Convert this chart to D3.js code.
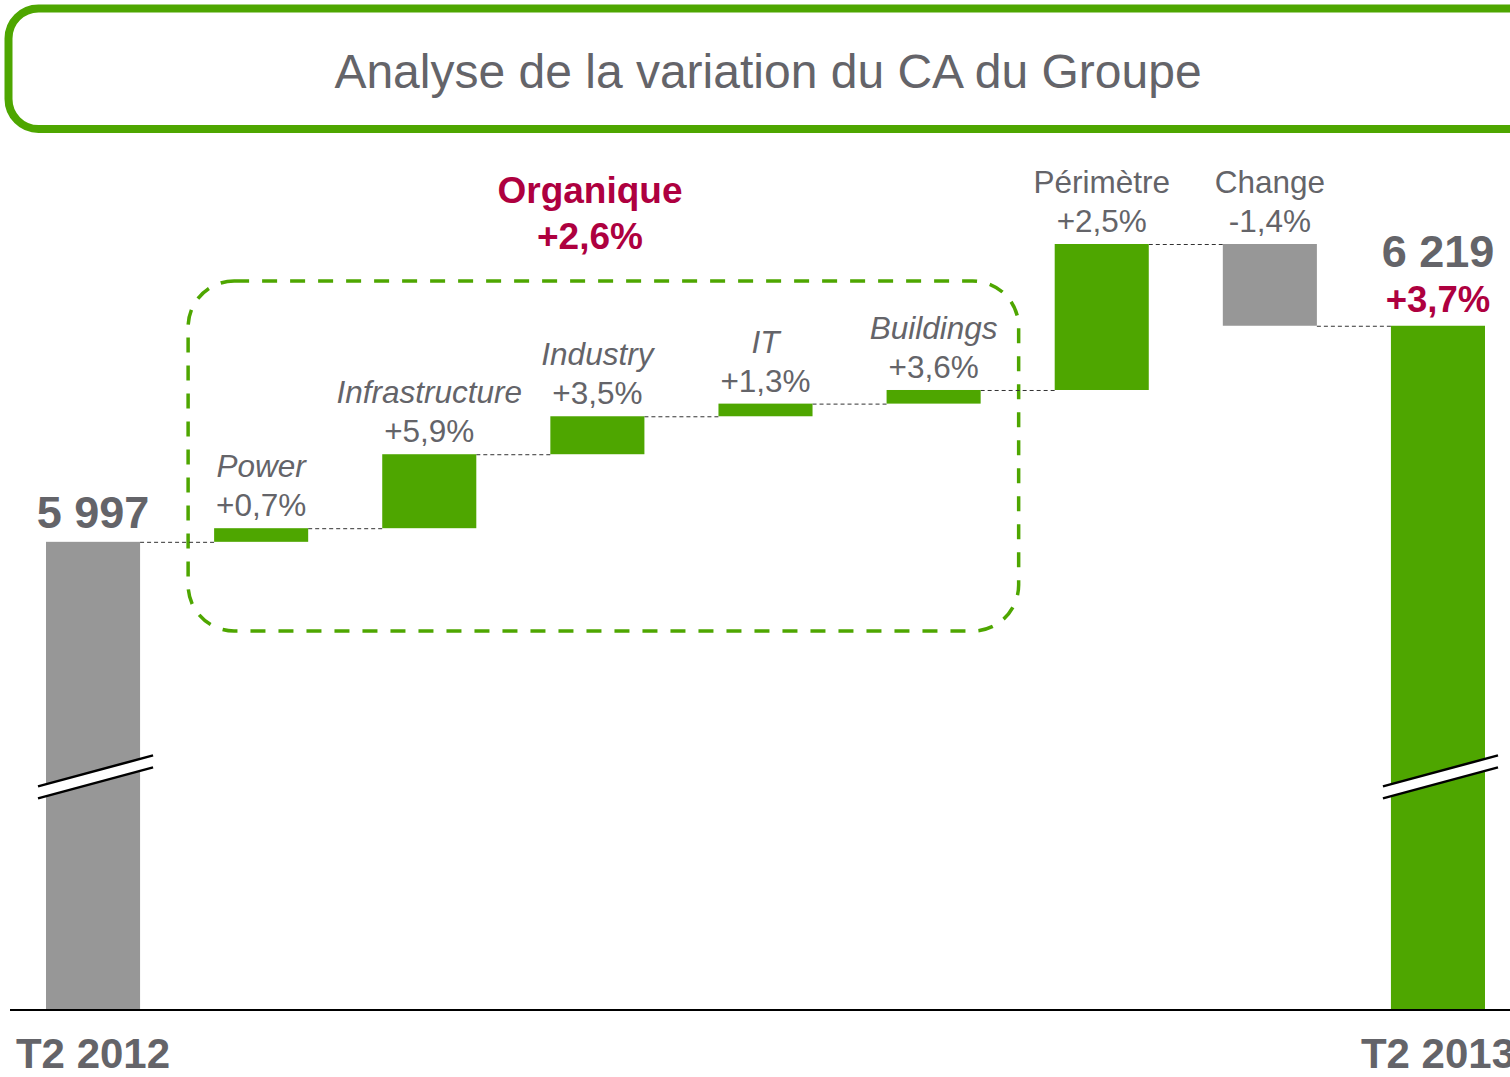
<!DOCTYPE html>
<html>
<head>
<meta charset="utf-8">
<script src="https://cdn.jsdelivr.net/npm/d3@7"></script>
<style>
  body { margin: 0; background: #fff; }
  svg { display: block; font-family: "Liberation Sans", Arial, sans-serif; }
</style>
</head>
<body>
<div id="chart"></div>
<script>
// Data
var categories = ["T2 2012", "Power", "Infrastructure", "Industry", "IT", "Buildings", "Périmètre", "Change", "T2 2013"];
var kinds      = ["total", "step", "step", "step", "step", "step", "step", "step", "total"];
var values     = [5997, 14, 76, 39, 13, 14, 150, -84, 6219];
var pctLabels  = ["", "+0,7%", "+5,9%", "+3,5%", "+1,3%", "+3,6%", "+2,5%", "-1,4%", ""];
var italicCats = ["Power", "Infrastructure", "Industry", "IT", "Buildings"];
var totalLabels = ["5 997", "", "", "", "", "", "", "", "6 219"];
var organicLabel = ["Organique", "+2,6%"];
var finalPct = "+3,7%";
var breakValue = 5756;

var green = "#4ea600", grey = "#979797", textGrey = "#646469", crimson = "#ae003f";

var width = 1510, height = 1077;
var svg = d3.select("#chart").append("svg")
    .attr("width", width)
    .attr("height", height);

// title box
svg.append("rect")
    .attr("x", 8.5).attr("y", 8.5)
    .attr("width", 1530).attr("height", 120.5)
    .attr("rx", 30).attr("ry", 30)
    .attr("fill", "none")
    .attr("stroke", green)
    .attr("stroke-width", 8);

svg.append("text")
    .attr("x", 768).attr("y", 88)
    .attr("text-anchor", "middle")
    .attr("fill", textGrey)
    .style("font-size", "48px")
    .text("Analyse de la variation du CA du Groupe");

// build waterfall rows
var rows = [];
var running = 0;
for (var i = 0; i < categories.length; i++) {
    var r = { cat: categories[i], kind: kinds[i], value: values[i], pct: pctLabels[i], total: totalLabels[i] };
    if (r.kind == "total") {
        r.start = null; r.end = r.value;
        running = r.value;
    } else {
        r.start = running;
        r.end = running + r.value;
        running = r.end;
    }
    rows.push(r);
}

var x = d3.scaleBand()
    .domain(categories)
    .range([46, 1485])
    .paddingInner(74 / 168)
    .paddingOuter(0);

// broken axis: the bottom of the scale is nominal
var y = d3.scaleLinear()
    .domain([5517, 6303])
    .range([1009, 244]);

var bw = x.bandwidth();

function barTop(d) { return d.kind == "total" ? y(d.end) : y(Math.max(d.start, d.end)); }
function barBottom(d) { return d.kind == "total" ? y.range()[0] : y(Math.min(d.start, d.end)); }

// organic dashed frame around the business lines
var fx0 = x("Power") - 26, fx1 = x("Buildings") + bw + 38;
svg.append("rect")
    .attr("x", fx0).attr("y", 281)
    .attr("width", fx1 - fx0).attr("height", 350)
    .attr("rx", 46).attr("ry", 46)
    .attr("fill", "none")
    .attr("stroke", green)
    .attr("stroke-width", 3.5)
    .attr("stroke-dasharray", "15,13");

// connectors
var links = [];
for (var j = 0; j < rows.length - 1; j++) {
    links.push({ x1: x(rows[j].cat) + bw, x2: x(rows[j + 1].cat), level: rows[j].end });
}
svg.selectAll(".link")
    .data(links)
    .enter().append("line")
    .attr("class", "link")
    .attr("x1", function(d) { return d.x1; })
    .attr("x2", function(d) { return d.x2; })
    .attr("y1", function(d) { return y(d.level) + 0.5; })
    .attr("y2", function(d) { return y(d.level) + 0.5; })
    .attr("stroke", "#333")
    .attr("stroke-width", 1)
    .attr("stroke-dasharray", "4,3");

// bars
svg.selectAll(".bar")
    .data(rows)
    .enter().append("rect")
    .attr("class", "bar")
    .attr("x", function(d) { return x(d.cat); })
    .attr("y", barTop)
    .attr("width", bw)
    .attr("height", function(d) { return barBottom(d) - barTop(d); })
    .attr("fill", function(d) {
        if (d.cat == "T2 2012") return grey;
        if (d.value < 0) return grey;
        return green;
    });

// axis break marks on the two total bars
var totals = rows.filter(function(d) { return d.kind == "total"; });
var by = y(breakValue);
totals.forEach(function(d) {
    var xa = x(d.cat) - 8, xb = x(d.cat) + bw + 13;
    var g = svg.append("g");
    g.append("polygon")
        .attr("points", [[xa, by + 10], [xb, by - 21], [xb, by - 9], [xa, by + 22]].join(" "))
        .attr("fill", "#fff");
    [0, 12].forEach(function(off) {
        g.append("line")
            .attr("x1", xa).attr("y1", by + 10 + off)
            .attr("x2", xb).attr("y2", by - 21 + off)
            .attr("stroke", "#000")
            .attr("stroke-width", 2.5);
    });
});

// baseline
svg.append("line")
    .attr("x1", 10).attr("x2", 1510)
    .attr("y1", 1010).attr("y2", 1010)
    .attr("stroke", "#000")
    .attr("stroke-width", 2);

// step labels
var steps = rows.filter(function(d) { return d.kind == "step"; });
svg.selectAll(".pct")
    .data(steps)
    .enter().append("text")
    .attr("class", "pct")
    .attr("x", function(d) { return x(d.cat) + bw / 2; })
    .attr("y", function(d) { return y(Math.max(d.start, d.end)) - 12; })
    .attr("text-anchor", "middle")
    .attr("fill", textGrey)
    .style("font-size", "31.5px")
    .text(function(d) { return d.pct; });

svg.selectAll(".cat")
    .data(steps)
    .enter().append("text")
    .attr("class", "cat")
    .attr("x", function(d) { return x(d.cat) + bw / 2; })
    .attr("y", function(d) { return y(Math.max(d.start, d.end)) - 51; })
    .attr("text-anchor", "middle")
    .attr("fill", textGrey)
    .style("font-size", "31.5px")
    .style("font-style", function(d) { return italicCats.indexOf(d.cat) >= 0 ? "italic" : "normal"; })
    .text(function(d) { return d.cat; });

// totals: value above, period below
svg.selectAll(".tot")
    .data(totals)
    .enter().append("text")
    .attr("class", "tot")
    .attr("x", function(d) { return x(d.cat) + bw / 2; })
    .attr("y", function(d, i) { return i == 0 ? y(d.end) - 14 : y(d.end) - 59; })
    .attr("text-anchor", "middle")
    .attr("fill", textGrey)
    .style("font-size", "45px")
    .style("font-weight", "bold")
    .text(function(d) { return d.total; });

svg.append("text")
    .attr("x", x("T2 2013") + bw / 2)
    .attr("y", y(6219) - 14)
    .attr("text-anchor", "middle")
    .attr("fill", crimson)
    .style("font-size", "36.5px")
    .style("font-weight", "bold")
    .text(finalPct);

svg.selectAll(".period")
    .data(totals)
    .enter().append("text")
    .attr("class", "period")
    .attr("x", function(d) { return x(d.cat) + bw / 2; })
    .attr("y", 1068)
    .attr("text-anchor", "middle")
    .attr("fill", textGrey)
    .style("font-size", "42px")
    .style("font-weight", "bold")
    .text(function(d) { return d.cat; });

// organic growth heading
svg.selectAll(".org")
    .data(organicLabel)
    .enter().append("text")
    .attr("class", "org")
    .attr("x", 590)
    .attr("y", function(d, i) { return 203 + i * 46; })
    .attr("text-anchor", "middle")
    .attr("fill", crimson)
    .style("font-size", "37px")
    .style("font-weight", "bold")
    .text(function(d) { return d; });
</script>
</body>
</html>
